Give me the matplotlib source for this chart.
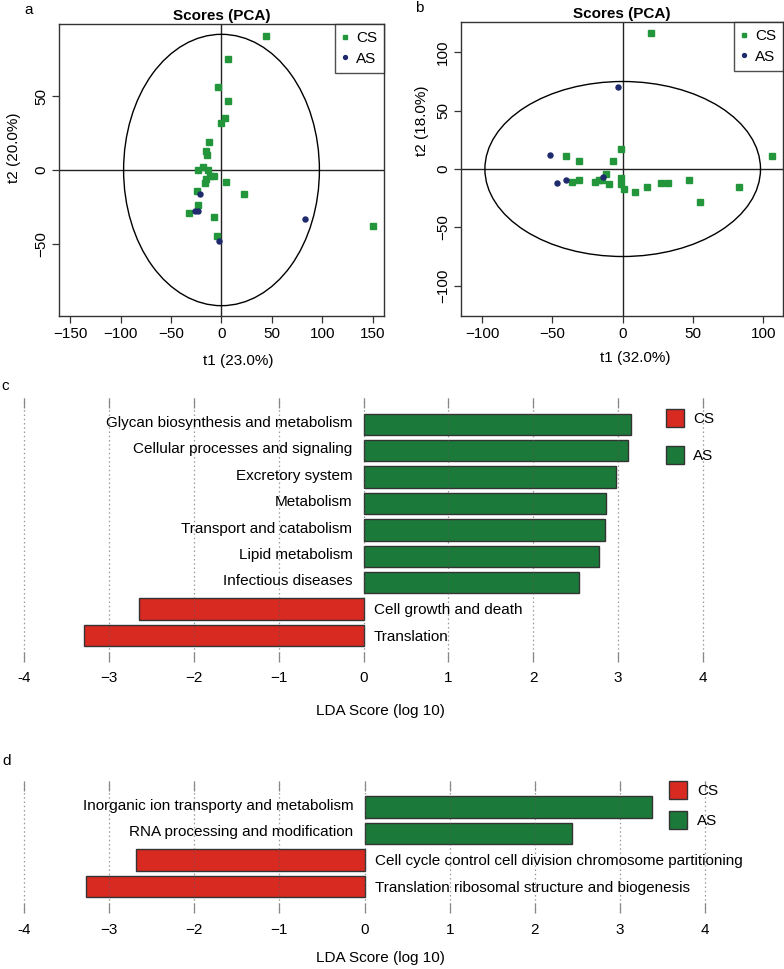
import numpy as np
import matplotlib
matplotlib.use("Agg")
import matplotlib.pyplot as plt
from matplotlib.patches import Ellipse, Rectangle
from matplotlib.lines import Line2D

plt.rcParams['font.family'] = ['Liberation Sans', 'DejaVu Sans']
plt.rcParams['font.size'] = 11

# ---------------- data ----------------
# Panel a (PCA)
cs_a_x = [44, 6, -3, 6, 3, 0, -12, -15, -14, -18, -23, -13, -7, -11, -15, -16, 4, 22, -24, -23, -32, -7, -4, 150]
cs_a_y = [91, 75, 56, 47, 35, 32, 19, 13, 10, 2, 0, 0, -4, -4, -6, -9, -8, -16, -14, -24, -29, -32, -45, -38]
as_a_x = [-21, -26, -23, 83, -2]
as_a_y = [-16, -28, -28, -33, -48]
ell_a = (97, 92)

# Panel b (PCA)
cs_b_x = [20, 106, -40, -31, -7, -1, -36, -31, -20, -17, -15, -12, -10, -1, -1, 1, 9, 17, 27, 32, 47, 55, 83]
cs_b_y = [117, 11, 11, 7, 7, 17, -11, -9, -11, -9, -9, -4, -13, -8, -13, -17, -20, -15, -12, -12, -9, -28, -15]
as_b_x = [-52, -47, -40, -14, -3]
as_b_y = [12, -12, -9, -7, 70]
ell_b = (98, 75)

# Panel c (LDA)
c_names = ["Glycan biosynthesis and metabolism", "Cellular processes and signaling",
           "Excretory system", "Metabolism", "Transport and catabolism",
           "Lipid metabolism", "Infectious diseases", "Cell growth and death", "Translation"]
c_vals = [3.15, 3.12, 2.98, 2.86, 2.85, 2.78, 2.54, -2.65, -3.30]

# Panel d (LDA)
d_names = ["Inorganic ion transporty and metabolism", "RNA processing and modification",
           "Cell cycle control cell division chromosome partitioning",
           "Translation ribosomal structure and biogenesis"]
d_vals = [3.37, 2.44, -2.68, -3.27]

lda_ticks = [-4, -3, -2, -1, 0, 1, 2, 3, 4]
lda_ticklabels = ["-4", "\u22123", "\u22122", "\u22121", "0", "1", "2", "3", "4"]

groups = ["CS", "AS"]

# ---------------- style ----------------
W, H = 784, 969
fig = plt.figure(figsize=(W / 100, H / 100), dpi=100)

PT_GREEN = '#23963C'
PT_NAVY = '#1E2A6C'
BAR_RED = '#D92A22'
BAR_GREEN = '#1B7A3A'
EDGE = '#333333'


def add_ax(l, t, r, b):
    return fig.add_axes([l / W, 1 - b / H, (r - l) / W, (b - t) / H])


def pca_panel(ax, csx, csy, asx, asy, ell, xlim, ylim, xticks, yticks, xlabel, ylabel,
              xlab_pos, ylab_pos):
    ax.set_xlim(xlim)
    ax.set_ylim(ylim)
    ax.axhline(0, color='#222222', lw=1.0, zorder=1)
    ax.axvline(0, color='#222222', lw=1.0, zorder=1)
    ax.add_patch(Ellipse((0, 0), 2 * ell[0], 2 * ell[1], fill=False, ec='black', lw=1.0, zorder=1))
    ax.plot(csx, csy, 's', color=PT_GREEN, ms=4.0, ls='none', zorder=3)
    ax.plot(asx, asy, 'o', color=PT_NAVY, ms=3.6, ls='none', zorder=3)
    ax.set_xticks(xticks)
    ax.set_yticks(yticks)
    ax.tick_params(direction='out', length=5, width=0.9, color='#333333', labelsize=11, pad=3)
    ax.tick_params(axis='y', labelrotation=90)
    for lab in ax.get_yticklabels():
        lab.set_va('center')
    for s in ax.spines.values():
        s.set_color('#333333')
        s.set_linewidth(1.0)
    ax.set_title("Scores (PCA)", fontsize=11, fontweight='bold', pad=3)
    ax.set_xlabel(xlabel, fontsize=11)
    ax.set_ylabel(ylabel, fontsize=11)
    ax.xaxis.set_label_coords(*xlab_pos)
    ax.yaxis.set_label_coords(*ylab_pos)
    handles = [Line2D([], [], marker='s', color=PT_GREEN, ls='none', ms=3.2),
               Line2D([], [], marker='o', color=PT_NAVY, ls='none', ms=2.8)]
    leg = ax.legend(handles, groups, loc='upper right', frameon=True, fancybox=False,
                    edgecolor='#222222', borderaxespad=0, handlelength=0.5,
                    handletextpad=0.45, labelspacing=0.45, borderpad=0.45, fontsize=11)
    leg.get_frame().set_linewidth(1.0)


ax_a = add_ax(59, 24, 384, 316)
pca_panel(ax_a, cs_a_x, cs_a_y, as_a_x, as_a_y, ell_a, (-161, 161), (-99, 99),
          [-150, -100, -50, 0, 50, 100, 150], [-50, 0, 50],
          "t1 (23.0%)", "t2 (20.0%)", (0.55, -0.13), (-0.117, 0.575))

ax_b = add_ax(461, 22, 783, 316)
pca_panel(ax_b, cs_b_x, cs_b_y, as_b_x, as_b_y, ell_b, (-115, 114), (-126, 126),
          [-100, -50, 0, 50, 100], [-100, -50, 0, 50, 100],
          "t1 (32.0%)", "t2 (18.0%)", (0.54, -0.12), (-0.10, 0.665))


def lda_panel(ax, names, vals, legend_px, xlabel_y):
    n = len(names)
    pos = np.arange(n)[::-1]
    colors = [BAR_GREEN if v > 0 else BAR_RED for v in vals]
    ax.barh(pos, vals, height=0.81, color=colors, edgecolor=EDGE, lw=1.0, zorder=2)
    for p, name, v in zip(pos, names, vals):
        if v > 0:
            ax.text(-0.13, p + 0.05, name, ha='right', va='center', fontsize=11)
        else:
            ax.text(0.12, p - 0.05, name, ha='left', va='center', fontsize=11)
    ax.set_xlim(-4.2, 4.2)
    ax.set_ylim(-1, n)
    ax.set_xticks(lda_ticks)
    ax.set_xticklabels(lda_ticklabels)
    ax.set_yticks([])
    ax.grid(axis='x', ls=(0, (1.2, 2.2)), color='#555555', alpha=0.6, lw=0.9, zorder=3)
    ax.set_axisbelow(False)
    ax.tick_params(axis='x', direction='in', top=True, bottom=True, length=7, width=0.9,
                   color='#888888', labelsize=11, pad=7)
    for s in ax.spines.values():
        s.set_visible(False)
    # legend
    (lx, ly1, ly2, sz, tx) = legend_px
    for yy, col, lab in [(ly1, BAR_RED, "CS"), (ly2, BAR_GREEN, "AS")]:
        fig.patches.append(Rectangle((lx / W, 1 - (yy + sz) / H), sz / W, sz / H,
                                     facecolor=col, edgecolor=EDGE, lw=1.0,
                                     transform=fig.transFigure, figure=fig))
        fig.text(tx / W, 1 - (yy + sz / 2 + 1) / H, lab, ha='left', va='center', fontsize=11)
    fig.text(380 / W, 1 - xlabel_y / H, "LDA Score (log 10)", ha='center', va='center', fontsize=11)


# Panel c axes: 0 at x=363.5 px, 84.8 px per unit
ax_c = add_ax(363.5 - 4.2 * 84.8, 398, 363.5 + 4.2 * 84.8, 661.7)
lda_panel(ax_c, c_names, c_vals, (666, 409, 446, 18, 693), 711)

ax_d = add_ax(364.5 - 4.2 * 85.2, 780.7, 364.5 + 4.2 * 85.2, 913)
lda_panel(ax_d, d_names, d_vals, (669, 781, 811, 18, 697), 958)

# panel letters
for x, y, t in [(29, 10, 'a'), (419, 8, 'b'), (5, 386, 'c'), (7, 761, 'd')]:
    fig.text(x / W, 1 - y / H, t, ha='center', va='center', fontsize=11)

fig.savefig("out.png", dpi=100)
